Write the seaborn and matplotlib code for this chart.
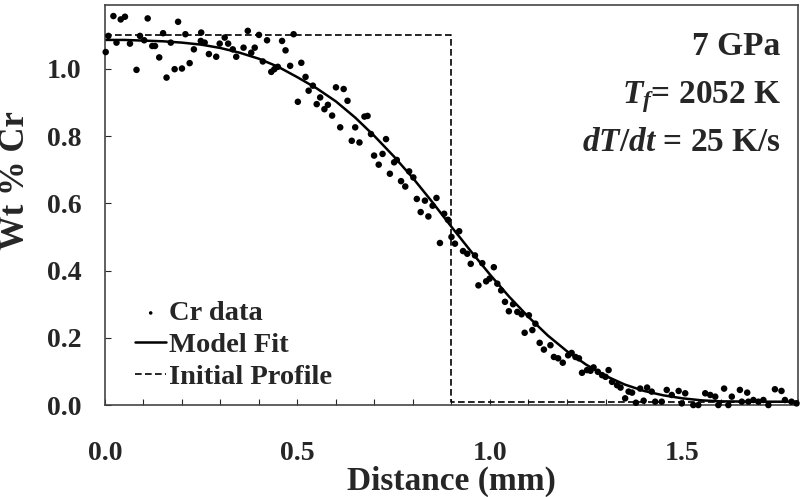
import matplotlib
matplotlib.use('Agg')
import matplotlib.pyplot as plt
from matplotlib.ticker import MultipleLocator, FormatStrFormatter
import seaborn as sns
import pandas as pd

# Cr data points (Distance mm, Wt % Cr)
cr_x = [0.002, 0.009, 0.022, 0.030, 0.041, 0.052, 0.065, 0.082, 0.091, 0.102,
        0.111, 0.123, 0.130, 0.141, 0.151, 0.160, 0.171, 0.181, 0.190, 0.200,
        0.209, 0.220, 0.231, 0.249, 0.250, 0.259, 0.270, 0.289, 0.298, 0.311,
        0.320, 0.332, 0.341, 0.360, 0.371, 0.380, 0.389, 0.400, 0.410, 0.421,
        0.432, 0.440, 0.449, 0.460, 0.469, 0.481, 0.490, 0.501, 0.510, 0.521,
        0.529, 0.540, 0.550, 0.559, 0.570, 0.579, 0.590, 0.600, 0.611, 0.620,
        0.630, 0.641, 0.650, 0.661, 0.674, 0.682, 0.691, 0.699, 0.711, 0.721,
        0.730, 0.740, 0.751, 0.758, 0.769, 0.780, 0.790, 0.801, 0.810, 0.820,
        0.831, 0.840, 0.851, 0.861, 0.870, 0.881, 0.891, 0.900, 0.909, 0.920,
        0.930, 0.941, 0.950, 0.961, 0.970, 0.980, 0.990, 0.999, 1.010, 1.019,
        1.029, 1.039, 1.049, 1.060, 1.071, 1.082, 1.090, 1.101, 1.110, 1.118,
        1.129, 1.140, 1.157, 1.166, 1.177, 1.189, 1.203, 1.212, 1.222, 1.231,
        1.239, 1.252, 1.261, 1.269, 1.280, 1.291, 1.300, 1.308, 1.317, 1.330,
        1.339, 1.351, 1.360, 1.369, 1.379, 1.390, 1.399, 1.408, 1.420, 1.429,
        1.446, 1.459, 1.472, 1.490, 1.498, 1.507, 1.528, 1.541, 1.559, 1.572,
        1.585, 1.593, 1.608, 1.619, 1.628, 1.649, 1.654, 1.668, 1.671, 1.684,
        1.697, 1.710, 1.723, 1.740, 1.757, 1.766, 1.783, 1.796]
cr_y = [1.050, 1.098, 1.157, 1.078, 1.147, 1.155, 1.075, 0.997, 1.098, 1.085,
        1.150, 1.068, 1.068, 1.034, 1.106, 0.974, 1.078, 0.999, 1.140, 1.001,
        1.103, 1.017, 1.058, 1.083, 1.108, 1.078, 1.044, 1.036, 1.075, 1.093,
        1.075, 1.058, 1.036, 1.063, 1.113, 1.048, 1.063, 1.101, 1.022, 1.085,
        0.991, 0.999, 1.006, 1.083, 1.055, 1.009, 1.103, 0.902, 1.018, 0.976,
        0.935, 0.950, 0.895, 0.915, 0.880, 0.893, 0.861, 0.945, 0.826, 0.940,
        0.905, 0.786, 0.826, 0.781, 0.858, 0.860, 0.806, 0.742, 0.715, 0.747,
        0.791, 0.688, 0.722, 0.729, 0.666, 0.650, 0.695, 0.677, 0.613, 0.574,
        0.608, 0.561, 0.593, 0.616, 0.482, 0.569, 0.551, 0.500, 0.480, 0.517,
        0.458, 0.450, 0.420, 0.445, 0.356, 0.422, 0.368, 0.376, 0.410, 0.361,
        0.341, 0.307, 0.279, 0.300, 0.277, 0.270, 0.215, 0.267, 0.223, 0.242,
        0.185, 0.165, 0.178, 0.143, 0.139, 0.126, 0.148, 0.155, 0.143, 0.139,
        0.096, 0.104, 0.102, 0.112, 0.099, 0.089, 0.084, 0.104, 0.069, 0.059,
        0.052, 0.020, 0.040, 0.037, 0.007, 0.049, 0.013, 0.052, 0.040, 0.010,
        0.010, 0.045, 0.030, 0.042, 0.005, 0.035, 0.000, 0.000, 0.035, 0.030,
        0.025, 0.000, 0.049, 0.000, 0.025, 0.045, 0.010, 0.037, 0.010, 0.015,
        0.010, 0.015, 0.000, 0.047, 0.042, 0.015, 0.010, 0.005]

# model fit curve
fit_x = [0.00, 0.05, 0.10, 0.15, 0.20, 0.25, 0.30, 0.35, 0.40, 0.45, 0.50,
         0.55, 0.60, 0.65, 0.70, 0.75, 0.80, 0.85, 0.90, 0.95, 1.00, 1.05,
         1.10, 1.15, 1.20, 1.25, 1.30, 1.35, 1.40, 1.45, 1.50, 1.55, 1.60,
         1.70, 1.80]
fit_y = [1.086, 1.086, 1.084, 1.082, 1.078, 1.072, 1.062, 1.048, 1.030, 1.006,
         0.975, 0.942, 0.903, 0.855, 0.800, 0.740, 0.675, 0.604, 0.530, 0.458,
         0.388, 0.322, 0.262, 0.207, 0.160, 0.120, 0.087, 0.061, 0.042, 0.029,
         0.020, 0.014, 0.011, 0.010, 0.010]

# initial step profile
init_x = [0.0, 0.9, 0.9, 1.8]
init_y = [1.10, 1.10, 0.01, 0.01]

sns.set_style('ticks')
plt.rcParams['font.family'] = ['Liberation Serif', 'DejaVu Serif']
plt.rcParams['font.weight'] = 'bold'
plt.rcParams['mathtext.fontset'] = 'custom'
plt.rcParams['mathtext.rm'] = 'Liberation Serif:bold'
plt.rcParams['mathtext.it'] = 'Liberation Serif:italic:bold'
plt.rcParams['mathtext.bf'] = 'Liberation Serif:bold'

fig = plt.figure(figsize=(8.01, 4.97), dpi=100)
ax = fig.add_axes([0.131, 0.185, 0.8653, 0.805])

df = pd.DataFrame({'x': cr_x, 'y': cr_y})
sns.scatterplot(data=df, x='x', y='y', ax=ax, color='black', s=22,
                edgecolor='none', label='Cr data', clip_on=False, zorder=3)
sns.lineplot(x=fit_x, y=fit_y, ax=ax, color='black', linewidth=1.8,
             label='Model Fit', estimator=None, sort=False)
sns.lineplot(x=init_x, y=init_y, ax=ax, color='black', linewidth=1.2,
             linestyle=(0, (4, 2)), label='Initial Profile',
             estimator=None, sort=False)

ax.set_xlim(0, 1.8)
ax.set_ylim(0, 1.19)
ax.xaxis.set_major_locator(MultipleLocator(0.5))
ax.xaxis.set_minor_locator(MultipleLocator(0.1))
ax.yaxis.set_major_locator(MultipleLocator(0.2))
ax.xaxis.set_major_formatter(FormatStrFormatter('%.1f'))
ax.yaxis.set_major_formatter(FormatStrFormatter('%.1f'))
ax.tick_params(axis='x', which='both', direction='in', length=4, width=0.8,
               labelsize=20, pad=26)
ax.tick_params(axis='y', direction='in', length=4, width=0.8,
               labelsize=20, pad=17)
for sp in ax.spines.values():
    sp.set_color('#444444')
    sp.set_linewidth(1.2)

ax.set_xlabel('Distance (mm)', fontsize=24, fontweight='bold', labelpad=0)
ax.set_ylabel('Wt % Cr', fontsize=25, fontweight='bold')
ax.yaxis.set_label_coords(-0.105, 0.56)

tx = 0.975
ax.text(tx, 0.875, '7 GPa', transform=ax.transAxes, ha='right',
        fontsize=24, fontweight='bold')
ax.text(tx, 0.755, r'$T_f$= 2052 K', transform=ax.transAxes, ha='right',
        fontsize=24, fontweight='bold')
ax.text(tx, 0.635, r'$dT/dt$ = 25 K/s', transform=ax.transAxes, ha='right',
        fontsize=24, fontweight='bold')

leg = ax.legend(loc='lower left', bbox_to_anchor=(0.027, 0.01), frameon=False,
                fontsize=20.5, handlelength=1.1, handletextpad=0.1,
                labelspacing=0.2, markerscale=0.55, borderaxespad=0)
for t in leg.get_texts():
    t.set_fontweight('bold')

fig.savefig('out.png', dpi=100)
